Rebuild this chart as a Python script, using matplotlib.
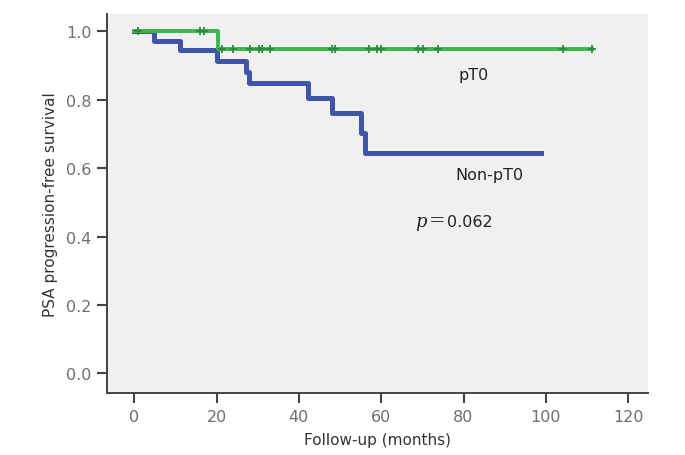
import numpy as np
import matplotlib
matplotlib.use('Agg')
import matplotlib.pyplot as plt

# Kaplan-Meier steps
pt0_times = [0, 20.3]
pt0_surv = [1.0, 0.947]
pt0_end = 111.1
pt0_censored = [1.0, 16.0, 17.0, 21.3, 24.1, 28.2, 30.2, 31.1, 33.0, 48.0, 48.8,
                57.1, 58.9, 59.9, 69.0, 70.1, 73.9, 104.2, 111.1]

nonpt0_times = [0, 4.7, 11.2, 20.1, 27.1, 28.0, 42.1, 48.0, 55.1, 56.1]
nonpt0_surv = [1.0, 0.973, 0.946, 0.914, 0.882, 0.849, 0.804, 0.762, 0.703, 0.643]
nonpt0_end = 98.9

x_ticks = [0, 20, 40, 60, 80, 100, 120]
y_ticks = [0.0, 0.2, 0.4, 0.6, 0.8, 1.0]

green = '#3db54a'
green_dark = '#2b8a3e'
blue = '#3f56a8'


def step_xy(times, surv, end):
    return list(times) + [end], list(surv) + [surv[-1]]


fig = plt.figure(figsize=(6.85, 4.56), dpi=100)
ax = fig.add_axes([0.1562, 0.1353, 0.946 - 0.1562, 0.967 - 0.1353])
ax.set_facecolor('#f0f0f0')

x, y = step_xy(nonpt0_times, nonpt0_surv, nonpt0_end)
ax.step(x, y, where='post', color=blue, linewidth=3.6, zorder=2)

x, y = step_xy(pt0_times, pt0_surv, pt0_end)
ax.step(x, y, where='post', color=green, linewidth=2.8, zorder=3)
cens_y = [pt0_surv[np.searchsorted(pt0_times, t, side='right') - 1] for t in pt0_censored]
ax.plot(pt0_censored, cens_y, linestyle='none', marker='+', markersize=6,
        markeredgewidth=1.3, color=green_dark, zorder=4)

# Annotations
ax.text(82.5, 0.875, 'pT0', fontsize=11.5, color='#222222', ha='center', va='center')
ax.text(86.2, 0.582, 'Non-pT0', fontsize=11.5, color='#222222', ha='center', va='center')
ax.text(68.2, 0.445, 'p', fontsize=13, color='#222222', ha='left', va='center',
        family='DejaVu Serif', style='italic')
ax.text(71.6, 0.448, '=', fontsize=14, color='#222222', ha='left', va='center',
        family='DejaVu Serif')
ax.text(75.9, 0.445, '0.062', fontsize=11.5, color='#222222', ha='left', va='center')

## Axis
ax.set_xlim(-6.6, 124.8)
ax.set_ylim(-0.0585, 1.0506)
ax.set_xticks(x_ticks)
ax.set_yticks(y_ticks)
ax.set_yticklabels(['%.1f' % v for v in y_ticks])
ax.tick_params(axis='both', direction='out', length=7, width=1.5, color='#444444',
               labelsize=11.5, labelcolor='#6e6e6e', pad=4)

ax.set_xlabel('Follow-up (months)', fontsize=11, color='#333333', labelpad=6)
ax.set_ylabel('PSA progression-free survival', fontsize=11, color='#333333', labelpad=6)

## Lines
for side in ['top', 'right']:
    ax.spines[side].set_visible(False)
for side in ['left', 'bottom']:
    ax.spines[side].set_color('#444444')
    ax.spines[side].set_linewidth(1.4)

fig.savefig('out.png', dpi=100, facecolor='white')
